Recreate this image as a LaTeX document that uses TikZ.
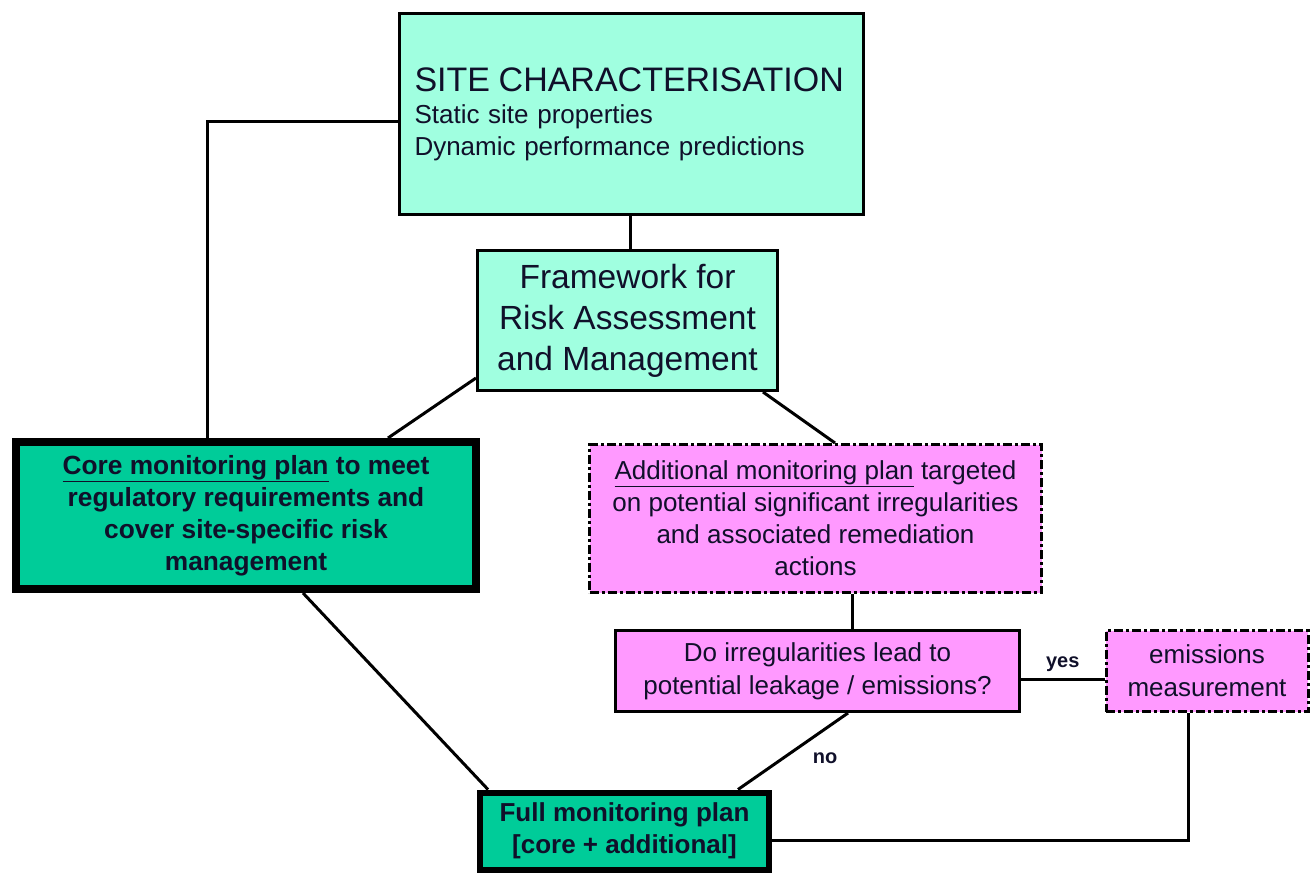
\documentclass[tikz,border=0pt]{standalone}
\usepackage{fontspec}
\setmainfont{Liberation Sans}
\usetikzlibrary{calc}
\definecolor{aqua}{HTML}{A0FFE0}
\definecolor{teal}{HTML}{00CC99}
\definecolor{pinkm}{HTML}{FF99FF}
\definecolor{ink}{HTML}{10102A}
\begin{document}
\begin{tikzpicture}[x=1pt,y=-1pt,
  box/.style={draw=black,rectangle,inner sep=0pt,align=center,text=ink,font=\fontsize{26}{32}\selectfont},
  thin box/.style={box,line width=3pt},
  dashdot box/.style={box,line width=3pt,dash pattern=on 9pt off 3pt on 3pt off 3pt},
  conn/.style={draw=black,line width=3pt},
  lbl/.style={font=\bfseries\fontsize{20}{22}\selectfont,text=ink,inner sep=0pt}]
\useasboundingbox (0,0) rectangle (1311,873);
\node[thin box,fill=aqua,minimum width=464pt,minimum height=201pt,text width=434pt,align=left] (site) at (631.5,114)
  {{\fontsize{34}{34}\selectfont SITE CHARACTERISATION}\\[1pt]
   \fontsize{26}{31}\selectfont Static site properties\\ Dynamic performance predictions};
\node[thin box,fill=aqua,minimum width=300pt,minimum height=140pt,font=\fontsize{33.5}{41}\selectfont] (fw) at (627.5,320.5)
  {Framework for\\Risk Assessment\\and Management};
\node[box,line width=8pt,fill=teal,minimum width=460pt,minimum height=147pt,font=\bfseries\fontsize{26.3}{32}\selectfont] (core) at (246,515.5)
  {\underline{Core monitoring plan} to meet\\regulatory requirements and\\cover site-specific risk\\management};
\node[dashdot box,fill=pinkm,minimum width=452pt,minimum height=148pt] (add) at (815.5,518.5)
  {\underline{Additional monitoring plan} targeted\\on potential significant irregularities\\and associated remediation\\actions};
\node[thin box,fill=pinkm,minimum width=404pt,minimum height=81pt,font=\fontsize{26}{33}\selectfont] (do) at (817.5,671)
  {Do irregularities lead to\\potential leakage / emissions?};
\node[dashdot box,fill=pinkm,minimum width=202pt,minimum height=81pt,font=\fontsize{26}{33}\selectfont] (em) at (1207,671)
  {emissions\\measurement};
\node[box,line width=6pt,fill=teal,minimum width=289pt,minimum height=77pt,font=\bfseries\fontsize{26}{35}\selectfont] (full) at (624.5,831)
  {\raisebox{-3pt}{Full monitoring plan}\\{}[core + additional]};
\draw[conn] (site.west |- 0,121) -| (core.north -| 207,0);
\draw[conn] (site.south -| 630,0) -- (fw.north -| 630,0);
\draw[conn] (fw.west |- 0,378) -- (core.north -| 388,0);
\draw[conn] (fw.south -| 763,0) -- (add.north -| 835,0);
\draw[conn] (add.south -| 852,0) -- (do.north -| 852,0);
\draw[conn] (do.east |- 0,679) -- node[lbl,above=6pt] (yes) {yes} (em.west |- 0,679);
\draw[conn] (do.south -| 848,0) -- (full.north -| 738,0);
\node[lbl] (no) at (825,758) {no};
\draw[conn] (core.south -| 303,0) -- (full.north -| 488,0);
\draw[conn] (em.south -| 1188,0) |- (full.east |- 0,840);
\end{tikzpicture}
\end{document}
